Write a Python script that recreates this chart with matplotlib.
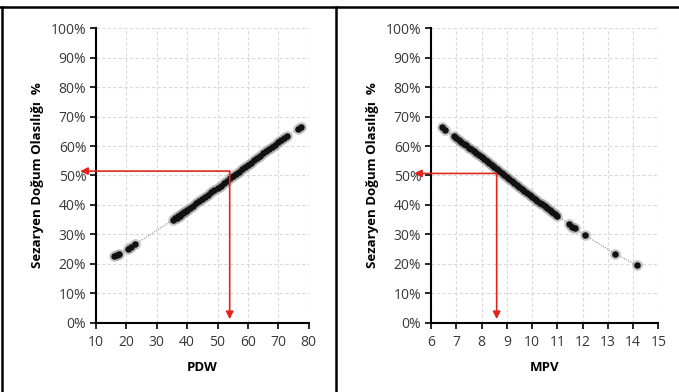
import matplotlib
matplotlib.use("Agg")
import matplotlib.pyplot as plt
from matplotlib.ticker import PercentFormatter, MultipleLocator
from matplotlib.lines import Line2D

plt.rcParams['font.family'] = ['Open Sans', 'DejaVu Sans']

# ---- data ----
pdw_x = [16.0, 16.8, 17.5, 20.5, 21.5, 22.8, 35.5, 36.0, 36.5, 37.0, 37.5, 38.0, 38.5,
         39.0, 39.5, 40.0, 41.0, 42.0, 43.0, 44.0, 45.0, 46.0, 47.0, 48.0, 49.0, 50.0,
         51.0, 52.0, 53.0, 54.0, 55.0, 56.0, 57.0, 58.0, 59.0, 60.0, 61.0, 62.0, 63.0,
         64.0, 65.0, 66.0, 67.0, 68.0, 69.0, 70.0, 71.0, 72.0, 73.0, 76.5, 77.5]
pdw_p = [22.7, 23.1, 23.5, 25.2, 25.8, 26.6, 35.0, 35.4, 35.7, 36.1, 36.4, 36.8, 37.2,
         37.5, 37.9, 38.3, 39.0, 39.7, 40.5, 41.3, 42.0, 42.8, 43.5, 44.3, 45.1, 45.9,
         46.6, 47.4, 48.2, 49.0, 49.8, 50.5, 51.3, 52.1, 52.9, 53.6, 54.4, 55.2, 56.0,
         56.7, 57.5, 58.3, 59.0, 59.8, 60.5, 61.3, 62.0, 62.7, 63.5, 65.9, 66.6]

mpv_x = [6.42, 6.55, 6.9, 7.0, 7.1, 7.2, 7.3, 7.4, 7.5, 7.6, 7.7, 7.8, 7.9, 8.0, 8.1,
         8.2, 8.3, 8.4, 8.5, 8.6, 8.7, 8.8, 8.9, 9.0, 9.1, 9.2, 9.3, 9.4, 9.5, 9.6,
         9.7, 9.8, 9.9, 10.0, 10.1, 10.2, 10.3, 10.4, 10.5, 10.6, 10.7, 10.8, 10.9,
         11.0, 11.45, 11.6, 11.7, 12.1, 13.3, 14.15]
mpv_p = [66.4, 65.6, 63.4, 62.8, 62.1, 61.5, 60.8, 60.2, 59.5, 58.9, 58.2, 57.6, 56.9,
         56.2, 55.6, 54.9, 54.2, 53.6, 52.9, 52.2, 51.5, 50.9, 50.2, 49.5, 48.8, 48.2,
         47.5, 46.8, 46.1, 45.4, 44.8, 44.1, 43.4, 42.8, 42.1, 41.5, 40.8, 40.2, 39.5,
         38.8, 38.2, 37.6, 36.9, 36.3, 33.5, 32.6, 32.0, 29.7, 23.4, 19.5]

# reference arrows (read-off point)
pdw_ref = (54.0, 51.5)
mpv_ref = (8.6, 50.7)

ylabel = "Sezaryen Doğum Olasılığı  %"
panels = [
    dict(x=pdw_x, y=pdw_p, xlim=(10, 80), xstep=10, xlabel="PDW", ref=pdw_ref,
         pos=[0.1414, 0.1768, 0.3132, 0.751], arrow_left=4.8),
    dict(x=mpv_x, y=mpv_p, xlim=(6, 15), xstep=1, xlabel="MPV", ref=mpv_ref,
         pos=[0.6348, 0.1768, 0.3347, 0.751], arrow_left=5.33),
]

fig = plt.figure(figsize=(6.79, 3.92), dpi=100)
red = '#e3261c'
tick_color = '#383838'

for p in panels:
    ax = fig.add_axes(p['pos'])
    ax.set_xlim(*p['xlim'])
    ax.set_ylim(0, 100)
    ax.xaxis.set_major_locator(MultipleLocator(p['xstep']))
    ax.yaxis.set_major_locator(MultipleLocator(10))
    ax.yaxis.set_major_formatter(PercentFormatter(100, decimals=0))
    ax.grid(True, color='#d9d9d9', ls=(0, (3, 2)), lw=0.8)
    ax.set_axisbelow(True)
    for s in ['top', 'right']:
        ax.spines[s].set_visible(False)
    for s in ['left', 'bottom']:
        ax.spines[s].set_linewidth(1.5)
        ax.spines[s].set_color('black')
    ax.tick_params(direction='out', length=4, width=1.2, colors='black',
                   labelcolor=tick_color, labelsize=10, pad=3)
    ax.tick_params(axis='x', pad=5)
    ax.set_xlabel(p['xlabel'], fontsize=9.5, fontweight='bold', labelpad=8)
    ax.set_ylabel(ylabel, fontsize=9.5, fontweight='bold', labelpad=5)

    # dotted trend
    order = sorted(range(len(p['x'])), key=lambda i: p['x'][i])
    xs = [p['x'][i] for i in order]
    ys = [p['y'][i] for i in order]
    ax.plot(xs, ys, color='#8c8c8c', ls=(0, (1, 1.2)), lw=0.8, zorder=2)
    ax.scatter(p['x'], p['y'], s=60, color='#9a9a9a', alpha=0.55, lw=0, zorder=3)
    ax.scatter(p['x'], p['y'], s=22, color='#111111', lw=0, zorder=4)

    rx, ry = p['ref']
    ax.annotate('', xy=(p['arrow_left'], ry), xytext=(rx, ry),
                arrowprops=dict(arrowstyle='-|>', color=red, lw=1.2,
                                mutation_scale=11, shrinkA=0, shrinkB=0),
                annotation_clip=False, zorder=5)
    ax.annotate('', xy=(rx, 1.2), xytext=(rx, ry),
                arrowprops=dict(arrowstyle='-|>', color=red, lw=1.2,
                                mutation_scale=11, shrinkA=0, shrinkB=0),
                annotation_clip=False, zorder=5)

# panel frame lines
W, H = 679, 392
fig.add_artist(Line2D([0, 1], [1 - 6.5 / H, 1 - 6.5 / H], color='black', lw=1.8))
fig.add_artist(Line2D([2 / W, 2 / W], [0, 1 - 6.5 / H], color='black', lw=1.8))
fig.add_artist(Line2D([335.5 / W, 335.5 / W], [0, 1 - 6.5 / H], color='black', lw=1.8))

fig.savefig('out.png', dpi=100)
